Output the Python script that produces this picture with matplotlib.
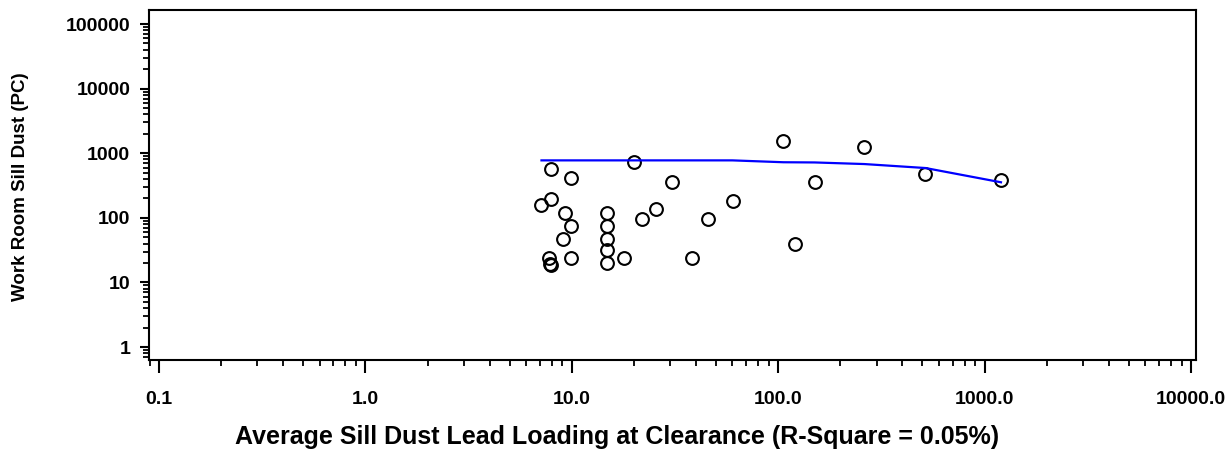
import matplotlib
matplotlib.use("Agg")
import matplotlib.pyplot as plt
from matplotlib.ticker import FixedLocator, FixedFormatter, LogLocator, NullFormatter

plt.rcParams["font.family"] = ["Liberation Sans", "DejaVu Sans"]
plt.rcParams["font.weight"] = "bold"

# scatter data (sill dust clearance vs work room sill dust)
clearance = [7.97, 9.9, 20.1, 30.6, 7.97, 7.13, 9.28, 14.8, 9.9, 14.8,
             22.0, 25.6, 45.6, 60.5, 9.1, 14.8, 14.8, 7.76, 7.8, 7.9,
             9.9, 14.8, 17.9, 38.1, 106, 261, 150, 120, 517, 1200]
workroom = [563, 418, 723, 362, 193, 156, 117, 117, 75.5, 75.5,
            94.8, 135, 94.8, 180, 46.5, 46.5, 31.7, 24.1, 19.3, 18.8,
            24.1, 20.2, 24.1, 24.1, 1563, 1260, 362, 39.7, 476, 384]

# smoothed fit line
fit_x = [7.13, 20, 60, 106, 150, 261, 517, 1200]
fit_y = [775, 775, 775, 725, 720, 680, 590, 355]

x_ticks = [0.1, 1, 10, 100, 1000, 10000]
x_labels = ["0.1", "1.0", "10.0", "100.0", "1000.0", "10000.0"]
y_ticks = [1, 10, 100, 1000, 10000, 100000]
y_labels = ["1", "10", "100", "1000", "10000", "100000"]

fig = plt.figure(figsize=(12.3, 4.72), dpi=100)
ax = fig.add_axes([0.1211, 0.2373, 0.8513, 0.7415])

ax.plot(clearance, workroom, linestyle="none", marker="o", markersize=9.2,
        markerfacecolor="none", markeredgecolor="black", markeredgewidth=1.5)
ax.plot(fit_x, fit_y, color="#0000ff", linewidth=1.6)

ax.set_xscale("log")
ax.set_yscale("log")
ax.set_xlim(0.0894, 10575)
ax.set_ylim(0.63, 164800)

ax.xaxis.set_major_locator(FixedLocator(x_ticks))
ax.xaxis.set_major_formatter(FixedFormatter(x_labels))
ax.yaxis.set_major_locator(FixedLocator(y_ticks))
ax.yaxis.set_major_formatter(FixedFormatter(y_labels))
ax.xaxis.set_minor_locator(LogLocator(base=10, subs=range(2, 10), numticks=20))
ax.yaxis.set_minor_locator(LogLocator(base=10, subs=range(2, 10), numticks=20))
ax.xaxis.set_minor_formatter(NullFormatter())
ax.yaxis.set_minor_formatter(NullFormatter())

for s in ax.spines.values():
    s.set_linewidth(1.5)

ax.tick_params(axis="x", which="major", direction="out", length=9.5, width=1.5,
               pad=13, labelsize=14)
ax.tick_params(axis="x", which="minor", direction="out", length=4.5, width=1.3)
ax.tick_params(axis="y", which="major", direction="out", length=6.5, width=1.5,
               pad=7, labelsize=14)
ax.tick_params(axis="y", which="minor", direction="out", length=4, width=1.3)

fig.text(0.502, 0.074, "Average Sill Dust Lead Loading at Clearance (R-Square = 0.05%)",
         ha="center", va="center", fontsize=18, fontweight="bold")
fig.text(0.0165, 0.604, "Work Room Sill Dust (PC)", rotation=90,
         ha="center", va="center", fontsize=13.5, fontweight="bold")

fig.savefig("out.png", dpi=100)
